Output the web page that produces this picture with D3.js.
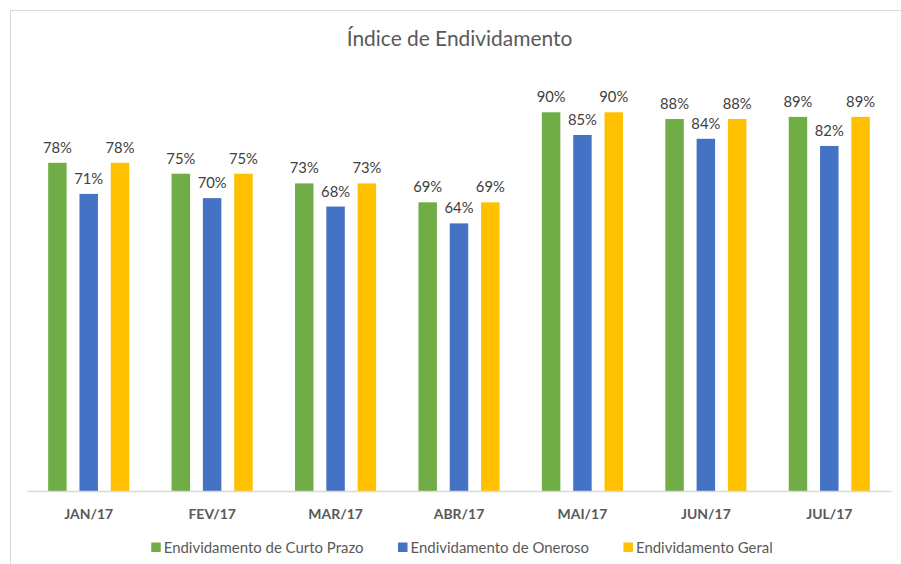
<!DOCTYPE html>
<html><head><meta charset="utf-8">
<script src="https://cdn.jsdelivr.net/npm/d3@7/dist/d3.min.js"></script>
<style>
html,body{margin:0;padding:0;background:#fff;}
svg{display:block;}
text{font-family:Lato,"Open Sans",sans-serif;}
</style></head>
<body>
<svg id="chart" width="901" height="564"></svg>
<script>
const title = "Índice de Endividamento";
const categories = ["JAN/17","FEV/17","MAR/17","ABR/17","MAI/17","JUN/17","JUL/17"];
const seriesNames = ["Endividamento de Curto Prazo","Endividamento de Oneroso","Endividamento Geral"];
const curtoPrazo = [0.780, 0.754, 0.731, 0.686, 0.900, 0.884, 0.889];
const oneroso    = [0.706, 0.696, 0.676, 0.636, 0.846, 0.837, 0.820];
const geral      = [0.780, 0.754, 0.731, 0.686, 0.900, 0.884, 0.889];
const colors = ["#70AD47","#4472C4","#FFC000"];

const seriesValues = [curtoPrazo, oneroso, geral];
const svg = d3.select("#chart");

// outer chart border
svg.append("rect").attr("x",10.5).attr("y",10.5).attr("width",920).attr("height",600)
  .attr("fill","#fff").attr("stroke","#D9D9D9").attr("stroke-width",1);

const plot = {left:27, right:891, top:70.2, bottom:491};

const x0 = d3.scaleBand().domain(categories).range([plot.left, plot.right]).paddingInner(0).paddingOuter(0);
const x1 = d3.scaleBand().domain(seriesNames).range([0, x0.bandwidth()]).paddingInner(0.41).paddingOuter(0.676);
const y = d3.scaleLinear().domain([0,1]).range([plot.bottom, plot.top]);

function fit(sel, target){
  const n = sel.node();
  const fs = parseFloat(sel.attr("font-size"));
  const w = n.getComputedTextLength();
  return fs * target / w;
}

// title
const t = svg.append("text").attr("x",459.5).attr("y",45.5).attr("text-anchor","middle")
  .attr("fill","#595959").attr("font-size",20).text(title);
t.attr("font-size", fit(t, 225.6));

// bars
const groups = svg.selectAll("g.cat").data(categories).join("g").attr("class","cat")
  .attr("transform", d => `translate(${x0(d)},0)`);

const bars = [];
categories.forEach((c,i)=>{
  seriesNames.forEach((s,j)=>{
    bars.push({cat:c, series:s, j, v:seriesValues[j][i]});
  });
});

svg.append("g").selectAll("rect").data(bars).join("rect")
  .attr("x", d => x0(d.cat) + x1(d.series))
  .attr("width", x1.bandwidth())
  .attr("y", d => y(d.v))
  .attr("height", d => y(0) - y(d.v))
  .attr("fill", d => colors[d.j]);

// data labels
const probe = svg.append("text").attr("font-size",14).text("78%");
const labelSize = fit(probe, 29);
probe.remove();
const fmt = d3.format(".0%");
svg.append("g").selectAll("text").data(bars).join("text")
  .attr("x", d => x0(d.cat) + x1(d.series) + x1.bandwidth()/2)
  .attr("y", d => y(d.v) - 10)
  .attr("text-anchor","middle")
  .attr("fill","#404040")
  .attr("font-size", labelSize)
  .text(d => fmt(d.v));

// axis
const axis = d3.axisBottom(x0).tickSize(0).tickPadding(0);
const ag = svg.append("g").attr("transform",`translate(0,${plot.bottom})`).call(axis);
ag.select(".domain").attr("stroke","#D9D9D9").attr("stroke-width",1.5);
const probe2 = svg.append("text").attr("font-size",13).attr("font-weight","bold").text("JAN/17");
const axSize = fit(probe2, 49);
probe2.remove();
ag.selectAll(".tick text").attr("font-family","Lato,'Open Sans',sans-serif")
  .attr("font-size", axSize).attr("font-weight","bold").attr("fill","#595959")
  .attr("dy",null).attr("y",28);

// legend
const probe3 = svg.append("text").attr("font-size",14).text(seriesNames[0]);
const legSize = fit(probe3, 200);
probe3.remove();
const leg = svg.append("g");
let lx = 0;
const items = seriesNames.map((s,j)=>{
  const g = leg.append("g");
  g.append("rect").attr("x",0).attr("y",-10).attr("width",9.5).attr("height",9.5).attr("fill",colors[j]);
  const tx = g.append("text").attr("x",12.5).attr("y",0).attr("fill","#595959").attr("font-size",legSize).text(s);
  const w = 12.5 + tx.node().getComputedTextLength();
  g.attr("transform",`translate(${lx},0)`);
  lx += w + 34.5;
  return w;
});
const totalW = lx - 34.5;
leg.attr("transform",`translate(${462 - totalW/2},552.5)`);
</script>
</body></html>
